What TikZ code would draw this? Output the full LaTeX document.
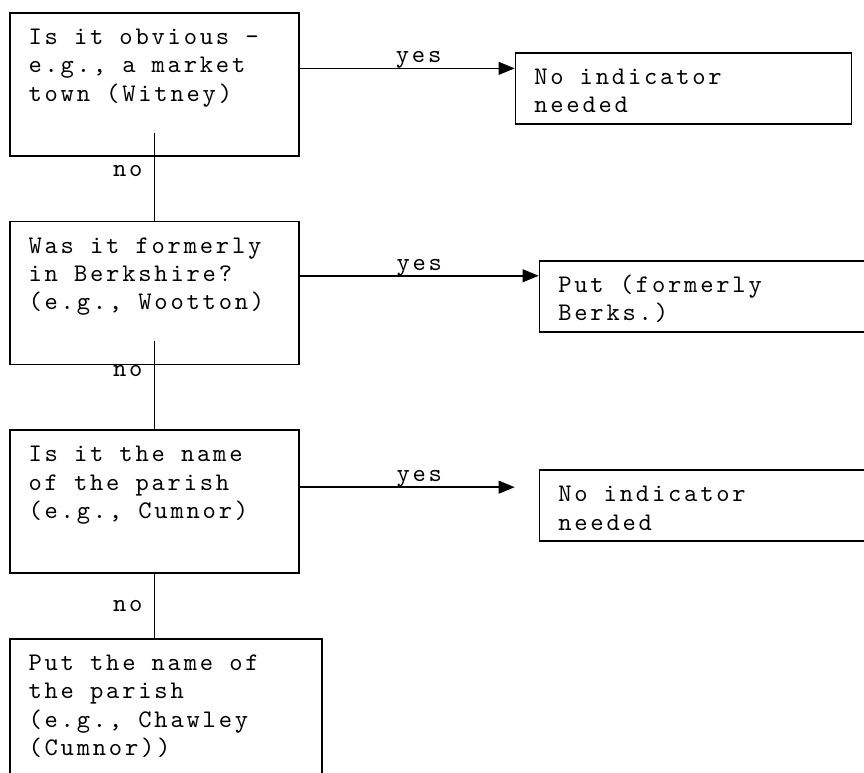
\documentclass[tikz,border=0pt]{standalone}
\usepackage{fontspec}
\setmonofont{lmmono10-regular.otf}[LetterSpace=11]
\usetikzlibrary{positioning}
\usetikzlibrary{arrows.meta}

\begin{document}
\begin{tikzpicture}[
      font=\ttfamily\fontsize{19pt}{21.25pt}\selectfont,
      question/.style={rectangle, draw, line width=1.3pt, align=flush left, inner xsep=14pt, inner ysep=4pt, text width=188.75pt, text height=19.6pt, text depth=79.65pt},
      answer/.style  ={rectangle, draw, line width=1.3pt, align=flush left, inner xsep=14pt, inner ysep=4pt, text width=224pt, text height=19.6pt, text depth=25.65pt},
      link/.style    ={line width=1.3pt},
      yeslink/.style ={line width=1.3pt, -{Triangle[length=12pt,width=9.5pt]}},
      node distance=48pt
    ]
    \useasboundingbox (0,0) rectangle (648pt,-579pt);

    \node [question, anchor=north west] (obvious) at (6.75pt,-9pt) {Is it obvious –\\e.g., a market\\town (Witney)} ;
    \node [question] (berks) [below=of obvious] {Was it formerly\\in Berkshire?\\(e.g., Wootton)} ;
    \node [question] (parish) [below=of berks] {Is it the name\\of the parish\\(e.g., Cumnor)} ;
    \node [question, text width=206pt] (putname) [below=of parish.south west, anchor=north west] {Put the name of\\the parish\\(e.g., Chawley\\(Cumnor))} ;

    \node [answer] (none1) [right=161.25pt of obvious, yshift=-3pt] {No indicator\\needed} ;
    \node [answer] (formerly) [right=179.25pt of berks, yshift=-2.6pt] {Put (formerly\\Berks.)} ;
    \node [answer] (none2) [right=179.25pt of parish, yshift=-3pt] {No indicator\\needed} ;

    \coordinate (tip3) at ([yshift=11pt]parish.east -| none1.west) ;

    \draw [yeslink] ([yshift=12pt]obvious.east) -- ([yshift=12pt]obvious.east -| none1.west) node [pos=0.553, anchor=base, yshift=4.3pt] {yes} ;
    \draw [yeslink] ([yshift=13pt]berks.east) -- ([yshift=13pt]berks.east -| formerly.west) node [pos=0.5, anchor=base, yshift=4.3pt] {yes} ;
    \draw [yeslink] ([yshift=11pt]parish.east) -- (tip3) node [pos=0.556, anchor=base, yshift=4.3pt] {yes} ;

    \draw [link] ([yshift=18pt]obvious.south) -- (berks.north) node [pos=0.43, left=5pt] {no} ;
    \draw [link] ([yshift=18pt]berks.south) -- (parish.north) node [pos=0.34, left=5pt] {no} ;
    \draw [link] (parish.south) -- (parish.south |- putname.north) node [pos=0.5, left=5pt] {no} ;
  \end{tikzpicture}
\end{document}
